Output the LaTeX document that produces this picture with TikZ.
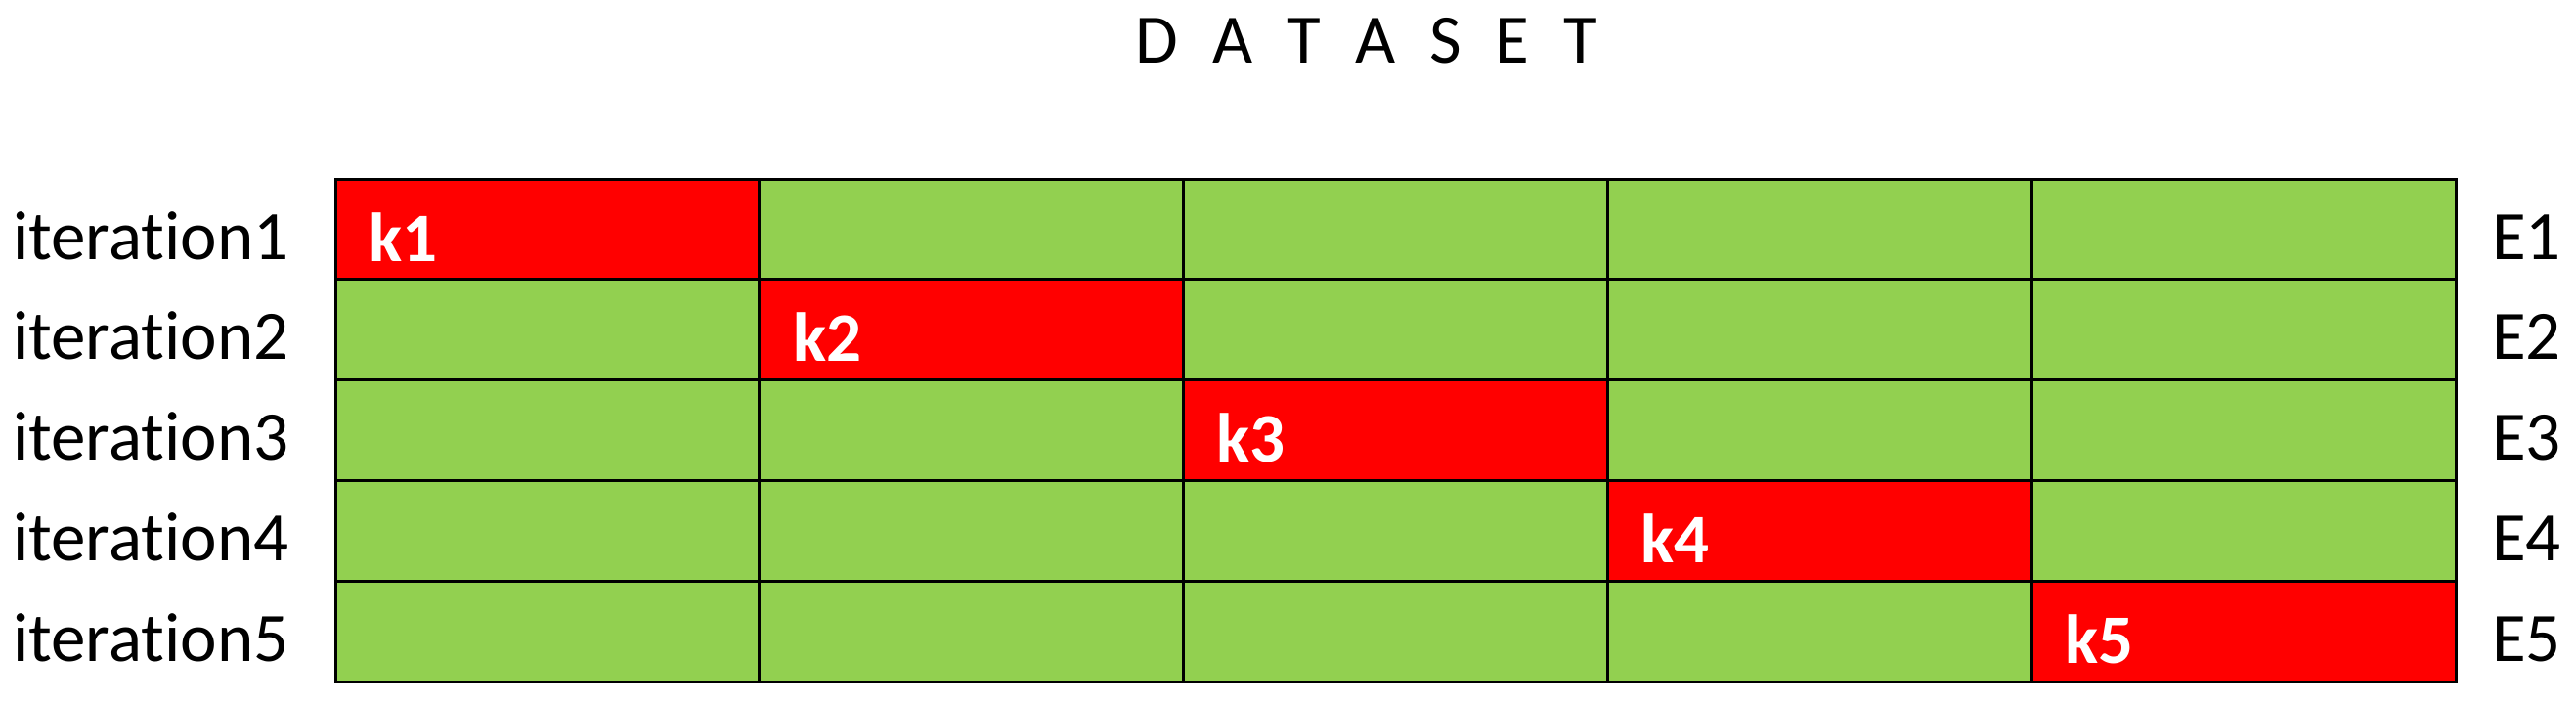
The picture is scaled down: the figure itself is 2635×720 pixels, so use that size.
\documentclass[tikz,border=0pt]{standalone}
\usepackage{fontspec}
\setmainfont{Carlito}[Ligatures=NoCommon]
\definecolor{cellgreen}{RGB}{146,208,80}
\definecolor{cellred}{RGB}{255,0,0}
\begin{document}
\begin{tikzpicture}[x=1pt,y=-1pt,
  cell/.style={draw=black, line width=3pt, minimum width=433.8pt, minimum height=102.8pt, inner sep=0pt, outer sep=0pt, anchor=north west},
  ok/.style={cell, fill=cellgreen},
  hold/.style={cell, fill=cellred},
  lbl/.style={font=\fontsize{71}{85}\selectfont, inner sep=0pt, anchor=base west},
  klbl/.style={lbl, font=\fontsize{71}{85}\selectfont\bfseries, text=white}]
\useasboundingbox (0,0) rectangle (2635,720);
\node[lbl, anchor=base] (title) at (1398,64) {\spaceskip=35pt\relax D A T A S E T};
\foreach \r in {1,...,5}{
  \foreach \c in {1,...,5}{
    \ifnum\r=\c \def\st{hold}\else\def\st{ok}\fi
    \node[\st] (c\r\c) at ({343+(\c-1)*433.8},{183+(\r-1)*102.8}) {};
  }
}
\foreach \r in {1,...,5}{
  \node[lbl] (it\r) at (13,{183+(\r-1)*102.8+82}) {iteration\r};
  \node[klbl] (k\r) at ({343+(\r-1)*433.8+34},{183+(\r-1)*102.8+84}) {k\r};
  \node[lbl] (e\r) at (2549,{183+(\r-1)*102.8+82}) {E\r};
}
\end{tikzpicture}
\end{document}
